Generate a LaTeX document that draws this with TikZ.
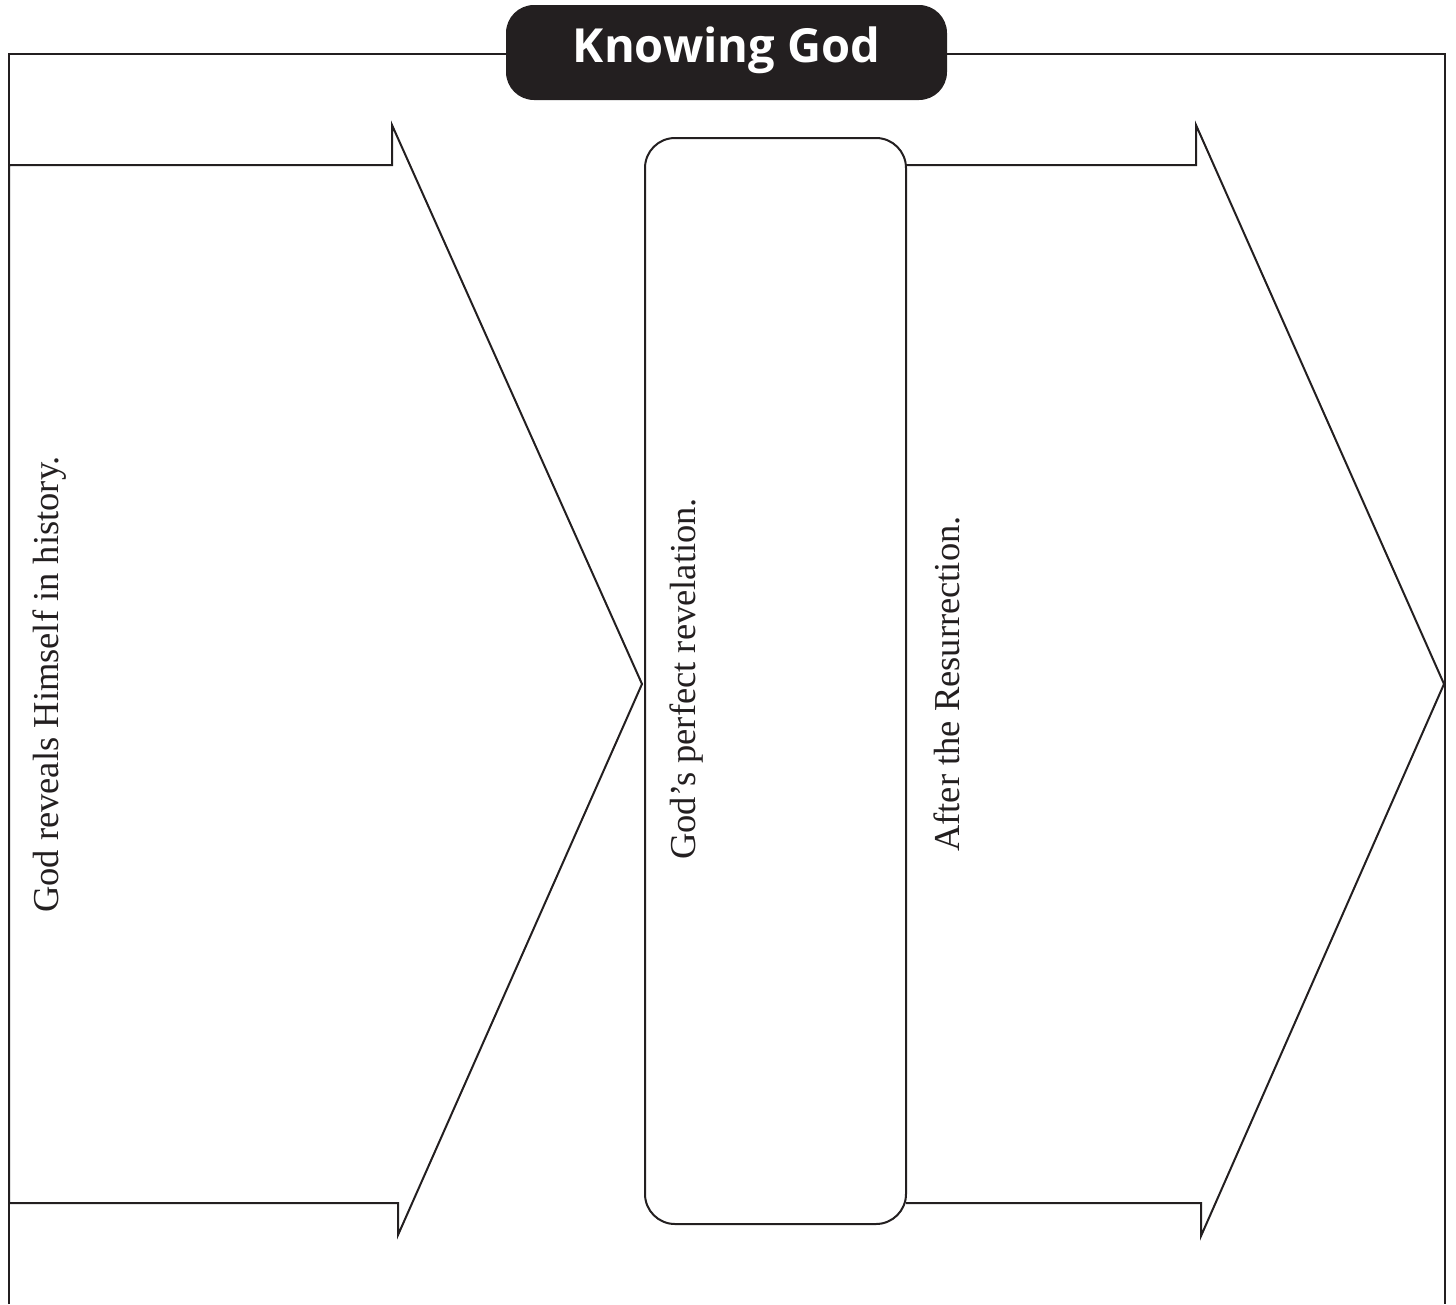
\documentclass[tikz,border=0pt]{standalone}
\usepackage{fontspec}
\setmainfont{Liberation Serif}
\newfontfamily\titlefont{Open Sans}
\definecolor{ink}{HTML}{231F20}
\begin{document}
\begin{tikzpicture}[x=1pt,y=-1pt,
  outline/.style={draw=ink,line width=2pt,line join=miter},
  frameline/.style={draw=ink,line width=2.4pt},
  titlebox/.style={fill=ink,rounded corners=28pt},
  vtext/.style={rotate=90,anchor=base west,inner sep=0pt,font=\fontsize{36.5}{40}\selectfont,text=ink}]
\useasboundingbox (0,0) rectangle (1456,1304);
% frame
\draw[frameline] (9,1304) -- (9,54) -- (1445,54) -- (1445,1304);
% title
\fill[titlebox] (506,5) rectangle (947,100);
\node[text=white,font=\titlefont\bfseries\fontsize{47}{50}\selectfont,anchor=base,inner sep=0pt] (title) at (726.5,62) {Knowing God};
% left arrow
\draw[outline] (9,165) -- (392,165) -- (392,125) -- (642,684) -- (398,1235) -- (398,1203) -- (9,1203) -- cycle;
% right arrow
\draw[outline] (906,165) -- (1196,165) -- (1196,125) -- (1444,684) -- (1201,1236) -- (1201,1203) -- (906,1203);
% middle rounded box
\draw[outline,fill=white,rounded corners=30pt] (645,138) rectangle (906,1224);
% texts
\node[vtext] (t1) at (58,913) {God reveals Himself in history.};
\node[vtext] (t2) at (695,860) {God’s perfect revelation.};
\node[vtext] (t3) at (959,852) {After the Resurrection.};
\end{tikzpicture}
\end{document}
